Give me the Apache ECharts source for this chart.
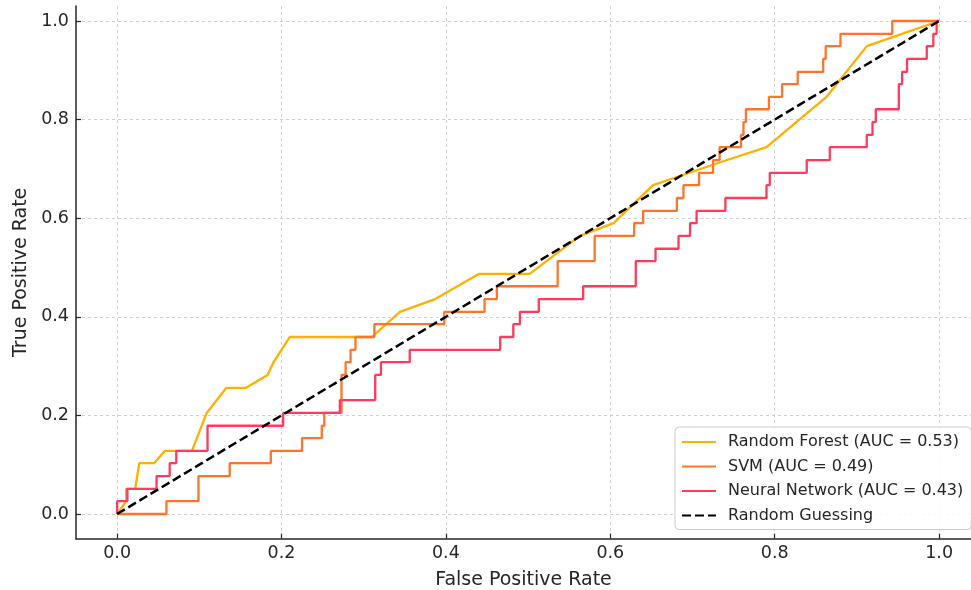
<!DOCTYPE html>
<html>
<head>
<meta charset="utf-8">
<script src="https://cdn.jsdelivr.net/npm/echarts@6/dist/echarts.min.js"></script>
<style>
html,body{margin:0;padding:0;background:#fff;}
#chart{width:971px;height:590px;}
</style>
</head>
<body>
<div id="chart"></div>
<script>
const seriesNames = ['Random Forest (AUC = 0.53)', 'SVM (AUC = 0.49)', 'Neural Network (AUC = 0.43)', 'Random Guessing'];
const tickValues = [0, 0.2, 0.4, 0.6, 0.8, 1.0];
const xAxisTitle = 'False Positive Rate';
const yAxisTitle = 'True Positive Rate';

const rfPoints = [[0,0],[0.011,0.026],[0.011,0.051],[0.022,0.051],[0.027,0.103],[0.045,0.103],[0.058,0.128],[0.091,0.128],[0.109,0.205],[0.133,0.256],[0.157,0.256],[0.183,0.282],[0.19,0.307],[0.21,0.359],[0.31,0.359],[0.344,0.41],[0.387,0.436],[0.44,0.487],[0.502,0.487],[0.563,0.564],[0.604,0.59],[0.652,0.667],[0.673,0.679],[0.742,0.718],[0.79,0.744],[0.863,0.846],[0.912,0.949],[1,1]];

const svmPoints = [[0,0],[0.06,0],[0.06,0.026],[0.099,0.026],[0.099,0.077],[0.137,0.077],[0.137,0.103],[0.187,0.103],[0.187,0.128],[0.225,0.128],[0.225,0.154],[0.249,0.154],[0.249,0.179],[0.252,0.179],[0.252,0.205],[0.273,0.205],[0.273,0.282],[0.278,0.282],[0.278,0.308],[0.284,0.308],[0.284,0.333],[0.29,0.333],[0.29,0.359],[0.313,0.359],[0.313,0.385],[0.398,0.385],[0.398,0.41],[0.447,0.41],[0.447,0.436],[0.462,0.436],[0.462,0.462],[0.536,0.462],[0.536,0.513],[0.581,0.513],[0.581,0.564],[0.629,0.564],[0.629,0.59],[0.64,0.59],[0.64,0.615],[0.681,0.615],[0.681,0.641],[0.689,0.641],[0.689,0.667],[0.708,0.667],[0.708,0.692],[0.725,0.692],[0.725,0.718],[0.733,0.718],[0.733,0.744],[0.759,0.744],[0.759,0.769],[0.762,0.769],[0.762,0.795],[0.765,0.795],[0.765,0.821],[0.793,0.821],[0.793,0.846],[0.809,0.846],[0.809,0.872],[0.828,0.872],[0.828,0.897],[0.859,0.897],[0.859,0.923],[0.862,0.923],[0.862,0.949],[0.88,0.949],[0.88,0.974],[0.943,0.974],[0.943,1],[1,1]];

const nnPoints = [[0,0],[0,0.026],[0.0125,0.026],[0.0125,0.051],[0.048,0.051],[0.048,0.077],[0.064,0.077],[0.064,0.103],[0.072,0.103],[0.072,0.128],[0.11,0.128],[0.11,0.179],[0.202,0.179],[0.202,0.205],[0.271,0.205],[0.271,0.231],[0.314,0.231],[0.314,0.282],[0.321,0.282],[0.321,0.308],[0.356,0.308],[0.356,0.333],[0.466,0.333],[0.466,0.359],[0.482,0.359],[0.482,0.385],[0.49,0.385],[0.49,0.41],[0.513,0.41],[0.513,0.436],[0.567,0.436],[0.567,0.462],[0.631,0.462],[0.631,0.513],[0.655,0.513],[0.655,0.538],[0.683,0.538],[0.683,0.564],[0.697,0.564],[0.697,0.59],[0.705,0.59],[0.705,0.615],[0.74,0.615],[0.74,0.641],[0.79,0.641],[0.79,0.667],[0.794,0.667],[0.794,0.692],[0.839,0.692],[0.839,0.718],[0.867,0.718],[0.867,0.744],[0.912,0.744],[0.912,0.769],[0.919,0.769],[0.919,0.795],[0.923,0.795],[0.923,0.821],[0.951,0.821],[0.951,0.872],[0.955,0.872],[0.955,0.897],[0.961,0.897],[0.961,0.923],[0.985,0.923],[0.985,0.949],[0.993,0.949],[0.993,0.974],[0.997,0.974],[0.997,1],[1,1]];

const diagonalPoints = [[0,0],[1,1]];

const colors = ['#FFB000', '#FF7428', '#FF3A5C', '#000000'];
const FONT = 'DejaVu Sans';

const chart = echarts.init(document.getElementById('chart'), null, {renderer: 'canvas'});

function lineSeries(name, data, color, dashed) {
  return {
    name: name,
    type: 'line',
    data: data,
    showSymbol: false,
    symbol: 'none',
    smooth: false,
    clip: true,
    lineStyle: {color: color, width: dashed ? 2.5 : 2.3, type: dashed ? [9, 4] : 'solid'},
    itemStyle: {color: color},
    emphasis: {disabled: true}
  };
}

const option = {
  animation: false,
  backgroundColor: '#ffffff',
  textStyle: {fontFamily: FONT},
  grid: {left: 76, width: 895, top: 6, bottom: 51.35, containLabel: false, outerBoundsMode: 'none'},
  xAxis: {
    type: 'value',
    min: -0.05,
    max: -0.05 + 895 / 822,
    name: xAxisTitle,
    nameLocation: 'middle',
    nameGap: 32,
    nameTextStyle: {fontFamily: FONT, fontSize: 19, color: '#262626'},
    axisLine: {show: true, onZero: false, lineStyle: {color: '#262626', width: 1.5}},
    axisTick: {show: true, inside: true, length: 5, customValues: tickValues, lineStyle: {color: '#262626', width: 1.2}},
    axisLabel: {customValues: tickValues, margin: 6, fontFamily: FONT, fontSize: 17.5, color: '#262626', formatter: v => v.toFixed(1)},
    splitLine: {show: true, lineStyle: {color: '#cccccc', width: 0.9, type: [3, 3]}}
  },
  yAxis: {
    type: 'value',
    min: -0.05,
    max: (514 - 6) / 493,
    name: yAxisTitle,
    nameLocation: 'middle',
    nameRotate: 90,
    nameGap: 45,
    nameTextStyle: {fontFamily: FONT, fontSize: 19, color: '#262626'},
    axisLine: {show: true, onZero: false, lineStyle: {color: '#262626', width: 1.5}},
    axisTick: {show: true, inside: true, length: 5, customValues: tickValues, lineStyle: {color: '#262626', width: 1.2}},
    axisLabel: {customValues: tickValues, margin: 7, fontFamily: FONT, fontSize: 17.5, color: '#262626', formatter: v => v.toFixed(1)},
    splitLine: {show: true, lineStyle: {color: '#cccccc', width: 0.9, type: [3, 3]}}
  },
  legend: {
    orient: 'vertical',
    left: 675,
    top: 427,
    padding: [7, 8, 6, 6],
    itemWidth: 34,
    itemHeight: 14,
    itemGap: 8.5,
    itemStyle: {opacity: 0, borderWidth: 0},
    backgroundColor: 'rgba(255,255,255,0.85)',
    borderColor: '#cccccc',
    borderWidth: 1,
    borderRadius: 4,
    textStyle: {fontFamily: FONT, fontSize: 16, color: '#262626', padding: [0, 0, 0, 7]},
    data: seriesNames
  },
  series: [
    lineSeries(seriesNames[0], rfPoints, colors[0], false),
    lineSeries(seriesNames[1], svmPoints, colors[1], false),
    lineSeries(seriesNames[2], nnPoints, colors[2], false),
    lineSeries(seriesNames[3], diagonalPoints, colors[3], true)
  ]
};
chart.setOption(option);
</script>
</body>
</html>
